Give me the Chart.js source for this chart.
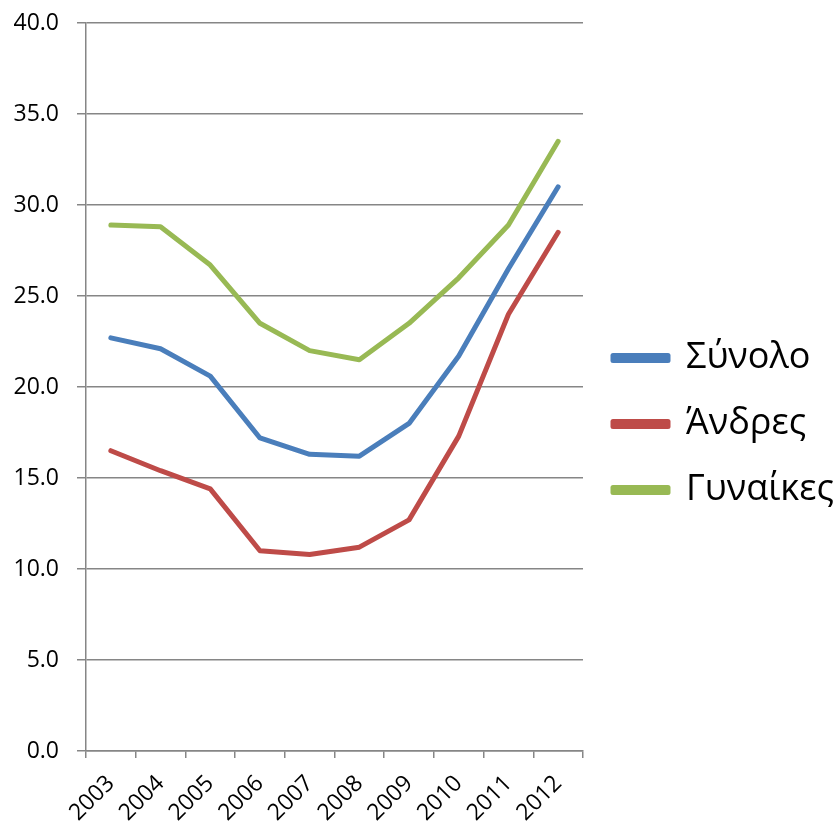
<!DOCTYPE html>
<html>
<head>
<meta charset="utf-8">
<script src="https://cdn.jsdelivr.net/npm/chart.js@4"></script>
<style>
  html, body { margin: 0; padding: 0; background: #fff; }
  #wrap { width: 837px; height: 825px; }
</style>
</head>
<body>
<div id="wrap"><canvas id="c" width="837" height="825"></canvas></div>
<script>
const years = ['2003','2004','2005','2006','2007','2008','2009','2010','2011','2012'];
const total = [22.7, 22.1, 20.6, 17.2, 16.3, 16.2, 18.0, 21.7, 26.5, 31.0];
const men   = [16.5, 15.4, 14.4, 11.0, 10.8, 11.2, 12.7, 17.3, 24.0, 28.5];
const women = [28.9, 28.8, 26.7, 23.5, 22.0, 21.5, 23.5, 26.0, 28.9, 33.5];
const seriesNames = ['Σύνολο', 'Άνδρες', 'Γυναίκες'];
const colors = ['#4A7EBB', '#BE4B48', '#98B954'];

const mk = (i, data) => ({
  label: seriesNames[i], data,
  borderColor: colors[i], backgroundColor: colors[i],
  borderWidth: 5, pointRadius: 0, tension: 0, fill: false,
  borderCapStyle: 'round', borderJoinStyle: 'round'
});

const font = "'Open Sans', 'Noto Sans', sans-serif";
new Chart(document.getElementById('c'), {
  type: 'line',
  data: { labels: years, datasets: [mk(0, total), mk(1, men), mk(2, women)] },
  options: {
    responsive: false, animation: false,
    layout: { padding: { top: 23, left: 0, right: 3, bottom: 0 } },
    plugins: {
      tooltip: { enabled: false },
      legend: {
        position: 'right',
        fullSize: true,
        maxWidth: 251,
        labels: {
          color: '#000', boxWidth: 55, boxHeight: 5,
          font: { family: font, size: 36 },
          padding: 30
        }
      }
    },
    scales: {
      x: {
        offset: true,
        grid: { display: true, drawOnChartArea: false, drawTicks: true, offset: true, tickLength: 7, color: '#868686', lineWidth: 1.5 },
        border: { color: '#868686', width: 1.5 },
        ticks: { color: '#000', font: { family: font, size: 23 }, maxRotation: 45, minRotation: 45, padding: 12 },
        afterFit: s => { s.height = 74; }
      },
      y: {
        min: 0, max: 40,
        grid: { color: '#868686', lineWidth: 1.5, tickLength: 9 },
        border: { color: '#868686', width: 1.5 },
        ticks: { stepSize: 5, color: '#000', font: { family: font, size: 23 }, padding: 18,
                 callback: v => Number(v).toFixed(1) },
        afterFit: s => { s.width = 86; s.paddingTop = 0; s.paddingBottom = 0; }
      }
    }
  }
});
</script>
</body>
</html>
